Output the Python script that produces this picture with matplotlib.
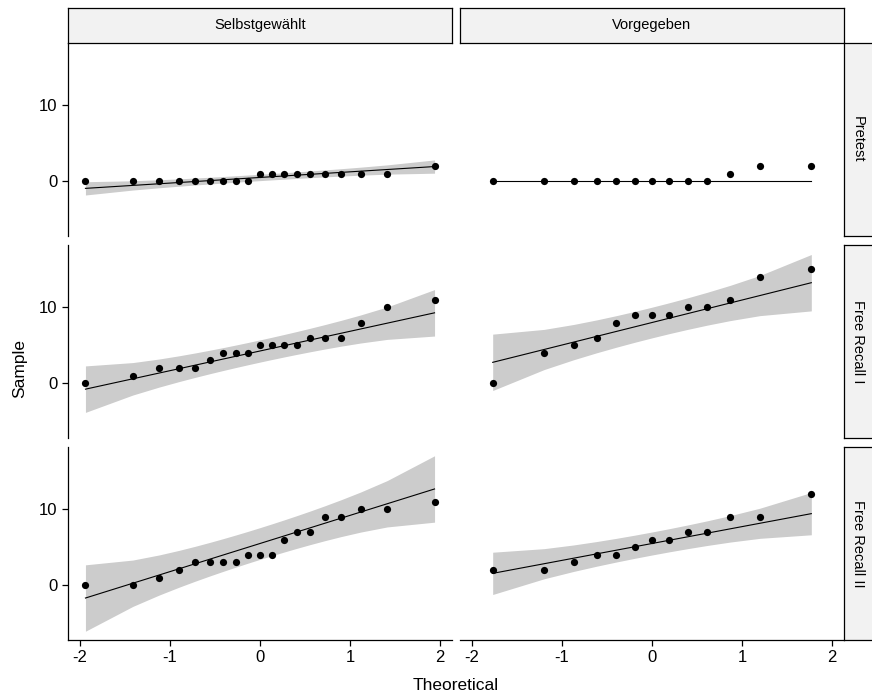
import numpy as np
import matplotlib
matplotlib.use('Agg')
import matplotlib.pyplot as plt
from statistics import NormalDist

plt.rcParams['font.family'] = ['Liberation Sans', 'DejaVu Sans']
plt.rcParams['axes.unicode_minus'] = False

# sorted sample values per facet
cols = ['Selbstgewählt', 'Vorgegeben']
rows = ['Pretest', 'Free Recall I', 'Free Recall II']

sel_pretest = [0, 0, 0, 0, 0, 0, 0, 0, 0, 1, 1, 1, 1, 1, 1, 1, 1, 1, 2]
sel_recall1 = [0, 1, 2, 2, 2, 3, 4, 4, 4, 5, 5, 5, 5, 6, 6, 6, 8, 10, 11]
sel_recall2 = [0, 0, 1, 2, 3, 3, 3, 3, 4, 4, 4, 6, 7, 7, 9, 9, 10, 10, 11]
vor_pretest = [0, 0, 0, 0, 0, 0, 0, 0, 0, 0, 1, 2, 2]
vor_recall1 = [0, 4, 5, 6, 8, 9, 9, 9, 10, 10, 11, 14, 15]
vor_recall2 = [2, 2, 3, 4, 4, 5, 6, 6, 7, 7, 9, 9, 12]

data = {
    ('Pretest', 'Selbstgewählt'): sel_pretest,
    ('Free Recall I', 'Selbstgewählt'): sel_recall1,
    ('Free Recall II', 'Selbstgewählt'): sel_recall2,
    ('Pretest', 'Vorgegeben'): vor_pretest,
    ('Free Recall I', 'Vorgegeben'): vor_recall1,
    ('Free Recall II', 'Vorgegeben'): vor_recall2,
}

nd = NormalDist()


def ppoints(n):
    a = 3 / 8 if n <= 10 else 0.5
    return (np.arange(1, n + 1) - a) / (n + 1 - 2 * a)


def r_quantile(v, p):
    # R type 7
    v = np.sort(np.asarray(v, dtype=float))
    h = (len(v) - 1) * p
    lo = int(np.floor(h))
    hi = min(lo + 1, len(v) - 1)
    return v[lo] + (h - lo) * (v[hi] - v[lo])


def qq_stats(sample):
    y = np.sort(np.asarray(sample, dtype=float))
    n = len(y)
    P = ppoints(n)
    x = np.array([nd.inv_cdf(p) for p in P])
    q1, q3 = r_quantile(y, 0.25), r_quantile(y, 0.75)
    x1, x3 = nd.inv_cdf(0.25), nd.inv_cdf(0.75)
    slope = (q3 - q1) / (x3 - x1)
    inter = q1 - slope * x1
    fit = inter + slope * x
    zz = nd.inv_cdf(0.975)
    se = slope / np.array([nd.pdf(v) for v in x]) * np.sqrt(P * (1 - P) / n)
    return x, y, fit, fit - zz * se, fit + zz * se


stats = {k: qq_stats(v) for k, v in data.items()}

# shared scales like facet_grid
all_x = np.concatenate([s[0] for s in stats.values()])
all_y = np.concatenate([np.concatenate([s[1], s[3], s[4]]) for s in stats.values()])
xr = all_x.max() - all_x.min()
yr = all_y.max() - all_y.min()
xlim = (all_x.min() - 0.05 * xr, all_x.max() + 0.05 * xr)
ylim = (all_y.min() - 0.05 * yr, all_y.max() + 0.05 * yr)

W, H = 872, 699
fig = plt.figure(figsize=(W / 100, H / 100), dpi=100)


def px_axes(x0, y0, x1, y1, **kw):
    return fig.add_axes([x0 / W, 1 - y1 / H, (x1 - x0) / W, (y1 - y0) / H], **kw)


col_x = [(68, 452), (460, 844)]
row_y = [(43, 236), (245, 438), (447, 640)]
strip_col = '#F2F2F2'

for ci, col in enumerate(cols):
    for ri, row in enumerate(rows):
        x0, x1 = col_x[ci]
        y0, y1 = row_y[ri]
        ax = px_axes(x0, y0, x1, y1)
        x, y, fit, lo, hi = stats[(row, col)]
        ax.fill_between(x, lo, hi, color='#CCCCCC', lw=0)
        ax.plot(x, fit, color='black', lw=0.8)
        ax.plot(x, y, 'o', color='black', ms=5.2, mec='none')
        ax.set_xlim(xlim)
        ax.set_ylim(ylim)
        ax.set_xticks([-2, -1, 0, 1, 2])
        ax.set_yticks([0, 10])
        for s in ['top', 'right']:
            ax.spines[s].set_visible(False)
        ax.spines['left'].set_visible(ci == 0)
        ax.spines['bottom'].set_visible(ri == 2)
        ax.spines['left'].set_linewidth(0.9)
        ax.spines['bottom'].set_linewidth(0.9)
        ax.tick_params(direction='out', length=4, width=0.9, labelsize=12, colors='black')
        if ci != 0:
            ax.tick_params(axis='y', left=False, labelleft=False)
        if ri != 2:
            ax.tick_params(axis='x', bottom=False, labelbottom=False)

# column strips
for ci, col in enumerate(cols):
    x0, x1 = col_x[ci]
    sax = px_axes(x0, 8, x1, 43)
    sax.set_facecolor(strip_col)
    sax.set_xticks([])
    sax.set_yticks([])
    for s in sax.spines.values():
        s.set_linewidth(0.9)
    sax.text(0.5, 0.5, col, ha='center', va='center', fontsize=10.5, transform=sax.transAxes)

# row strips
for ri, row in enumerate(rows):
    y0, y1 = row_y[ri]
    sax = px_axes(844, y0, 880, y1)
    sax.set_facecolor(strip_col)
    sax.set_xticks([])
    sax.set_yticks([])
    for s in sax.spines.values():
        s.set_linewidth(0.9)
    sax.text(0.38, 0.5, row, ha='center', va='center', rotation=-90, fontsize=10.5,
             transform=sax.transAxes)

fig.text(456 / W, 1 - 685 / H, 'Theoretical', ha='center', va='center', fontsize=12.5)
fig.text(20 / W, 1 - 368 / H, 'Sample', ha='center', va='center', rotation=90, fontsize=12.5)

fig.savefig('out.png', dpi=100)
